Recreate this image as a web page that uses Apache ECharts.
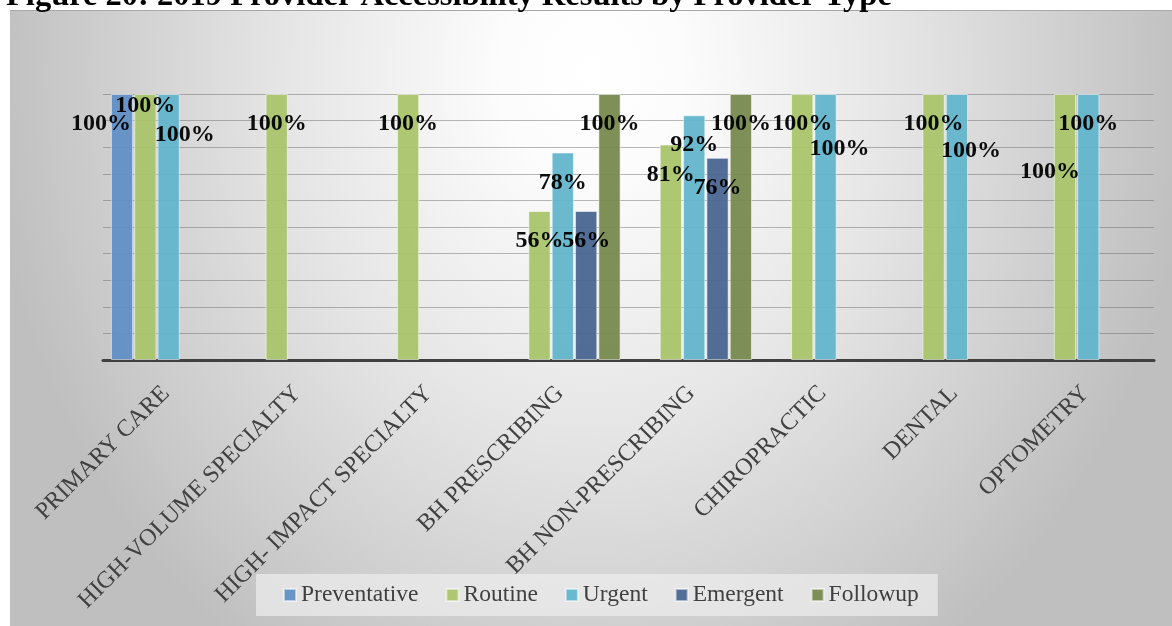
<!DOCTYPE html>
<html><head><meta charset="utf-8">
<script src="https://cdn.jsdelivr.net/npm/echarts@6/dist/echarts.min.js"></script>
<style>
html,body{margin:0;padding:0;background:#fff;overflow:hidden;}
#bg{position:absolute;left:10px;top:10px;width:1162px;height:616px;
background:radial-gradient(ellipse 52% 115% at 50% 10%, #ffffff 0%, #fcfcfc 15%, #e6e6e6 50%, #bfbfbf 100%);
border-top:1px solid #a8a8a8;box-sizing:border-box;}
#chart{position:absolute;left:0;top:0;width:1172px;height:626px;}
</style></head><body>
<div id="bg"></div><div id="chart"></div>
<script>
const categories = ['PRIMARY CARE','HIGH-VOLUME SPECIALTY','HIGH- IMPACT SPECIALTY','BH PRESCRIBING','BH NON-PRESCRIBING','CHIROPRACTIC','DENTAL','OPTOMETRY'];
const seriesNames = ['Preventative','Routine','Urgent','Emergent','Followup'];
const preventative = [100, null, null, null, null, null, null, null];
const routine      = [100, 100, 100, 56, 81, 100, 100, 100];
const urgent       = [100, null, null, 78, 92, 100, 100, 100];
const emergent     = [null, null, null, 56, 76, null, null, null];
const followup     = [null, null, null, 100, 100, null, null, null];
const yTicks = [0,10,20,30,40,50,60,70,80,90,100];

// styling (kept apart from the data)
const colors = ['#628fc5','#a9c46c','#62b5cc','#4a6690','#778a4f'];
const labelNudge = { // "series|category": [dx, dy]
  '0|0': [-21, 0], '1|0': [0, -18], '2|0': [16, 11],
  '2|5': [14, 25], '2|6': [14, 27], '1|7': [-15, 48]
};
const serif = '"Liberation Serif", "Times New Roman", serif';

const allValues = [preventative, routine, urgent, emergent, followup];
const series = allValues.map((vals, si) => ({
  name: seriesNames[si],
  type: 'bar',
  barGap: '5%',
  barCategoryGap: '12%',
  itemStyle: { color: colors[si], borderColor: 'rgba(255,255,255,0.55)', borderWidth: 1, opacity: 0.95 },
  label: {
    show: true, position: 'insideTop', distance: 18,
    formatter: p => p.value + '%',
    fontFamily: serif, fontWeight: 'bold', fontSize: 24, color: '#000'
  },
  data: vals.map((v, ci) => {
    const n = labelNudge[si + '|' + ci];
    return n ? { value: v, label: { offset: n } } : v;
  })
}));

const chart = echarts.init(document.getElementById('chart'));
chart.setOption({
  backgroundColor: 'transparent',
  animation: false,
  title: {
    text: 'Figure 20: 2019 Provider Accessibility Results by Provider Type',
    left: 1, top: -25,
    textStyle: { fontFamily: serif, fontWeight: 'bold', fontSize: 32.5, color: '#000' }
  },
  color: colors,
  legend: {
    left: 256, top: 574,
    padding: [9, 19, 9, 27],
    backgroundColor: 'rgba(238,238,238,0.7)',
    itemWidth: 12, itemHeight: 12, itemGap: 27,
    icon: 'rect',
    data: seriesNames,
    textStyle: { fontFamily: serif, fontSize: 23.5, color: '#404040' }
  },
  grid: { left: 103, right: 18, top: 94, bottom: 266, containLabel: false },
  xAxis: {
    type: 'category',
    data: categories,
    axisLine: { lineStyle: { color: '#404040', width: 3 } },
    axisTick: { show: false },
    axisLabel: {
      rotate: 45, margin: 27, interval: 0, padding: [0, 4, 0, 0],
      fontFamily: serif, fontSize: 24, color: '#404040'
    }
  },
  yAxis: {
    type: 'value', min: yTicks[0], max: yTicks[yTicks.length - 1], interval: yTicks[1] - yTicks[0],
    axisLabel: { show: false },
    axisLine: { show: false },
    axisTick: { show: false },
    splitLine: { lineStyle: { color: 'rgba(100,100,100,0.45)', width: 1.2 } }
  },
  series: series
});
</script>
</body></html>
